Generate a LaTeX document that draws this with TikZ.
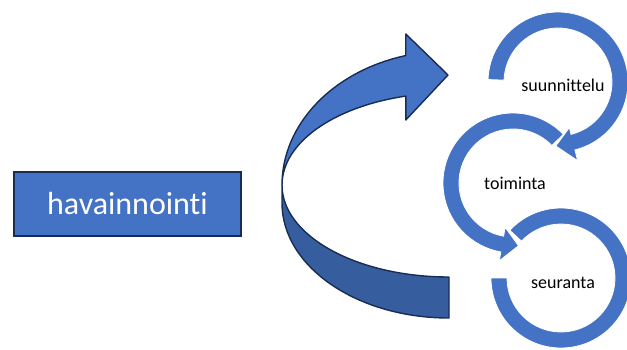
\documentclass[tikz,border=0pt]{standalone}
\usepackage{fontspec}
\setmainfont{Carlito}[Ligatures=NoCommon]
\definecolor{cblue}{HTML}{4472C4}
\definecolor{cdark}{RGB}{54,94,158}
\definecolor{cnavy}{RGB}{24,44,84}
\tikzset{
  frontband/.style={fill=cblue, draw=cnavy, line width=1.4pt, line join=round},
  backband/.style={fill=cdark, draw=cnavy, line width=1.4pt, line join=round},
  ringarrow/.style={fill=cblue, draw=white, line width=0.8pt},
  boxstyle/.style={fill=cblue, draw=cnavy, line width=1.4pt, minimum width=227pt, minimum height=64pt, inner sep=0pt, text=white, font=\fontsize{32}{36}\selectfont},
  lbl/.style={text=black, inner sep=0pt, font=\fontsize{18}{22}\selectfont}
}
\begin{document}
\begin{tikzpicture}[x=1pt,y=1pt]
\useasboundingbox (0,0) rectangle (627,349);

% left box
\node[boxstyle] (hav) at (127.5,145) {havainnointi};

% big curved arrow: back (lower) band
\filldraw[backband] (282,164)
  arc[start angle=180, end angle=270, x radius=167pt, y radius=92pt]
  -- (449,31)
  arc[start angle=270, end angle=180, x radius=167pt, y radius=115pt]
  -- cycle;
% front (upper) band with head
\filldraw[frontband] (282,164)
  arc[start angle=180, end angle=105, x radius=167pt, y radius=134pt]
  -- (405.8,315) -- (448,274) -- (405.8,229) -- (405.8,252.9)
  arc[start angle=105, end angle=180, x radius=167pt, y radius=92pt]
  -- cycle;

% circle 3 (seuranta)
\begin{scope}[shift={(561,71)}]
\filldraw[ringarrow] (137:70pt) arc[start angle=137, end angle=-180, radius=70pt]
  -- (180:54pt) arc[start angle=-180, end angle=137, radius=54pt] -- cycle;
\end{scope}
% circle 2 (toiminta)
\begin{scope}[shift={(513,166)}]
\filldraw[ringarrow] (44:70pt) arc[start angle=44, end angle=260, radius=70pt]
  -- (260:79pt) -- (275:63pt) -- (260:45pt) -- (260:54pt)
  arc[start angle=260, end angle=44, radius=54pt] -- cycle;
\end{scope}
% circle 1 (suunnittelu)
\begin{scope}[shift={(558,267)}]
\filldraw[ringarrow] (178:70pt) arc[start angle=178, end angle=-76, radius=70pt]
  -- (-76:81pt) -- (-92:64pt) -- (-76:47pt) -- (-76:54pt)
  arc[start angle=-76, end angle=178, radius=54pt] -- cycle;
\end{scope}

\node[lbl] (suu) at (563,264) {suunnittelu};
\node[lbl] (toi) at (515,166) {toiminta};
\node[lbl] (seu) at (563,66) {seuranta};
\end{tikzpicture}
\end{document}
